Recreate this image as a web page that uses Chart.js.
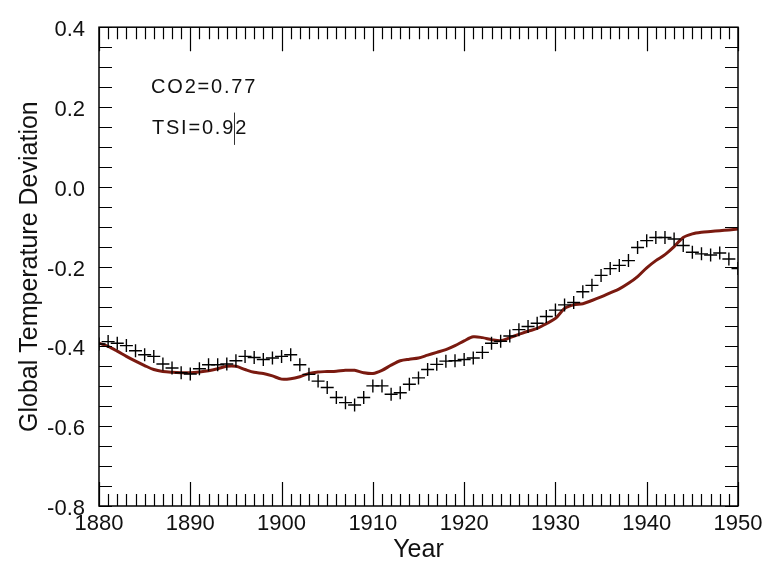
<!DOCTYPE html>
<html><head><meta charset="utf-8">
<script src="https://cdn.jsdelivr.net/npm/chart.js@4/dist/chart.umd.min.js"></script>
<style>html,body{margin:0;padding:0;background:#fff}#wrap{width:775px;height:564px;position:relative}</style>
</head><body><div id="wrap"><canvas id="c"></canvas></div>
<script>
const years = [1880,1881,1882,1883,1884,1885,1886,1887,1888,1889,1890,1891,1892,1893,1894,1895,1896,1897,1898,1899,
1900,1901,1902,1903,1904,1905,1906,1907,1908,1909,1910,1911,1912,1913,1914,1915,1916,1917,1918,1919,
1920,1921,1922,1923,1924,1925,1926,1927,1928,1929,1930,1931,1932,1933,1934,1935,1936,1937,1938,1939,
1940,1941,1942,1943,1944,1945,1946,1947,1948,1949,1950];

// observed temperature deviation (crosses)
const observed = [-0.394,-0.388,-0.392,-0.398,-0.411,-0.421,-0.425,-0.444,-0.454,-0.466,-0.469,-0.456,-0.446,-0.446,-0.444,-0.436,-0.425,-0.428,-0.433,-0.429,
-0.425,-0.421,-0.446,-0.470,-0.487,-0.503,-0.528,-0.541,-0.547,-0.528,-0.499,-0.499,-0.520,-0.516,-0.495,-0.479,-0.458,-0.445,-0.437,-0.436,
-0.433,-0.429,-0.415,-0.392,-0.387,-0.374,-0.358,-0.350,-0.342,-0.325,-0.309,-0.296,-0.290,-0.263,-0.247,-0.222,-0.205,-0.197,-0.185,-0.152,
-0.135,-0.127,-0.127,-0.131,-0.147,-0.164,-0.168,-0.171,-0.166,-0.181,-0.205];

// model (CO2 + TSI) line
const model = [-0.392,-0.400,-0.412,-0.425,-0.437,-0.448,-0.458,-0.463,-0.465,-0.466,-0.466,-0.464,-0.461,-0.456,-0.450,-0.450,-0.458,-0.465,-0.468,-0.474,
-0.482,-0.481,-0.476,-0.468,-0.464,-0.463,-0.462,-0.460,-0.460,-0.466,-0.468,-0.460,-0.447,-0.436,-0.432,-0.429,-0.422,-0.415,-0.408,-0.398,
-0.386,-0.376,-0.378,-0.383,-0.386,-0.378,-0.370,-0.362,-0.355,-0.343,-0.330,-0.305,-0.296,-0.293,-0.285,-0.276,-0.266,-0.256,-0.242,-0.225,
-0.203,-0.185,-0.170,-0.150,-0.127,-0.118,-0.114,-0.112,-0.110,-0.108,-0.106];

const xTickLabels = [1880,1890,1900,1910,1920,1930,1940,1950];
const yTickLabels = [0.4,0.2,0.0,-0.2,-0.4,-0.6,-0.8];
const annotations = [
  {text:'CO2=0.77', x:1885.7, y:0.236},
  {text:'TSI=0.92', x:1885.8, y:0.133}
];

const obsPoints = years.map((yr,i)=>({x:yr,y:observed[i]}));
const modelPoints = years.map((yr,i)=>({x:yr,y:model[i]}));

const framePlugin = {
  id:'frame',
  afterDatasetsDraw(chart){
    const {ctx, chartArea:{left,right,top,bottom}, scales:{x,y}} = chart;
    ctx.save();
    ctx.strokeStyle='#000';
    ctx.lineWidth=1.5;
    ctx.strokeRect(left,top,right-left,bottom-top);
    ctx.lineWidth=1.2;
    ctx.beginPath();
    for (let v=x.min; v<=x.max+1e-6; v+=1){
      const px=Math.round(x.getPixelForValue(v))+0.5;
      const len = (Math.round(v)%10===0)?24:12;
      ctx.moveTo(px,bottom); ctx.lineTo(px,bottom-len);
      ctx.moveTo(px,top); ctx.lineTo(px,top+len);
    }
    for (let i=0;i<=Math.round((y.max-y.min)/0.05);i++){
      const v=y.min+i*0.05;
      const py=Math.round(y.getPixelForValue(v))+0.5;
      ctx.moveTo(left,py); ctx.lineTo(left+13,py);
      ctx.moveTo(right,py); ctx.lineTo(right-13,py);
    }
    ctx.stroke();
    ctx.fillStyle='#111';
    ctx.font='20px "Liberation Sans", Arial, sans-serif';
    ctx.textBaseline='alphabetic';
    try{ctx.letterSpacing='1.8px';}catch(e){}
    annotations.forEach(a=>{
      ctx.fillText(a.text, x.getPixelForValue(a.x), y.getPixelForValue(a.y));
    });
    // small vertical mark through the TSI label
    ctx.strokeStyle='#333'; ctx.lineWidth=1;
    ctx.beginPath();
    const mx=Math.round(x.getPixelForValue(1894.8))+0.5;
    ctx.moveTo(mx,y.getPixelForValue(0.186));
    ctx.lineTo(mx,y.getPixelForValue(0.105));
    ctx.stroke();
    ctx.restore();
  }
};

const tickFont = {family:'"Liberation Sans Narrow", "Liberation Sans", Arial, sans-serif', size:22};

new Chart(document.getElementById('c'), {
  type:'line',
  data:{datasets:[
    {label:'Observed', data:obsPoints, showLine:false, pointStyle:'cross', pointRadius:6.5, pointBorderWidth:1.4,
     borderColor:'#000', backgroundColor:'#000', pointHoverRadius:6.5},
    {label:'Model', data:modelPoints, borderColor:'#7a1a10', borderWidth:3, pointRadius:0, fill:false, tension:0.3}
  ]},
  options:{
    responsive:true, maintainAspectRatio:false, animation:false,
    layout:{padding:{left:0,right:37,top:22,bottom:0}},
    plugins:{legend:{display:false}, tooltip:{enabled:false}},
    scales:{
      x:{type:'linear', min:1880, max:1950,
        afterBuildTicks(s){ s.ticks = xTickLabels.map(v=>({value:v})); },
        afterFit(s){ s.height = 58; },
        grid:{display:false, drawTicks:false}, border:{display:false},
        ticks:{color:'#111', font:tickFont, padding:5, maxRotation:0, autoSkip:false, callback:v=>String(v)},
        title:{display:true, text:'Year', color:'#111', font:{family:'"Liberation Sans Narrow", "Liberation Sans", Arial, sans-serif', size:25, lineHeight:1}, padding:{top:0,bottom:1}}
      },
      y:{type:'linear', min:-0.8, max:0.4,
        afterBuildTicks(s){ s.ticks = yTickLabels.map(v=>({value:v})); },
        afterFit(s){ s.width = 99; },
        grid:{display:false, drawTicks:false}, border:{display:false},
        ticks:{color:'#111', font:tickFont, padding:14, labelOffset:3, autoSkip:false, callback:v=>Number(v).toFixed(1)},
        title:{display:true, text:'Global Temperature Deviation', color:'#111', font:{family:'"Liberation Sans", Arial, sans-serif', size:25, lineHeight:1}, padding:{top:18,bottom:0}}
      }
    }
  },
  plugins:[framePlugin]
});
</script></body></html>
